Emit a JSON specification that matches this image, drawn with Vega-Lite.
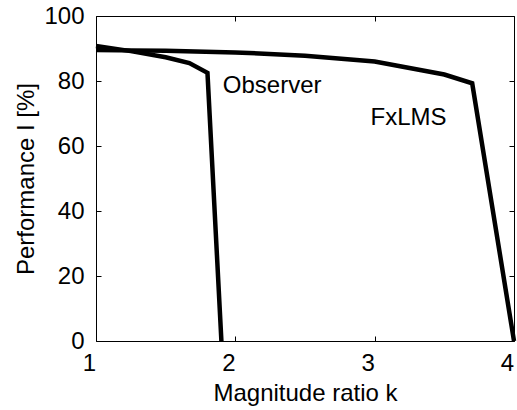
{
  "$schema": "https://vega.github.io/schema/vega-lite/v6.json",
  "autosize": {"type": "none"},
  "padding": {"left": 96, "top": 16, "right": 3, "bottom": 69},
  "width": 418,
  "height": 325,
  "background": "white",
  "config": {
    "font": "Liberation Sans",
    "view": {"stroke": null},
    "axis": {
      "domainColor": "black",
      "domainWidth": 1,
      "tickColor": "black",
      "tickWidth": 1,
      "tickSize": -5,
      "grid": false,
      "labelColor": "black",
      "labelFont": "Liberation Sans",
      "labelFontSize": 24,
      "titleFont": "Liberation Sans",
      "titleFontSize": 24,
      "titleFontWeight": "normal",
      "titleColor": "black"
    }
  },
  "datasets": {
    "lines": [
      {"method": "FxLMS", "k": 1.0, "perf": 89.5},
      {"method": "FxLMS", "k": 1.5, "perf": 89.3},
      {"method": "FxLMS", "k": 2.0, "perf": 88.8},
      {"method": "FxLMS", "k": 2.5, "perf": 87.8},
      {"method": "FxLMS", "k": 3.0, "perf": 86.0},
      {"method": "FxLMS", "k": 3.5, "perf": 82.0},
      {"method": "FxLMS", "k": 3.7, "perf": 79.3},
      {"method": "FxLMS", "k": 4.0, "perf": 0},
      {"method": "Observer", "k": 1.0, "perf": 90.8},
      {"method": "Observer", "k": 1.25, "perf": 89.2},
      {"method": "Observer", "k": 1.5, "perf": 87.3},
      {"method": "Observer", "k": 1.67, "perf": 85.5},
      {"method": "Observer", "k": 1.8, "perf": 82.5},
      {"method": "Observer", "k": 1.9, "perf": 0}
    ],
    "labels": [
      {"text": "Observer", "k": 1.91, "perf": 76.3},
      {"text": "FxLMS", "k": 2.97, "perf": 66.5}
    ]
  },
  "layer": [
    {
      "data": {"name": "lines"},
      "mark": {"type": "line", "color": "black", "strokeWidth": 4.5},
      "encoding": {
        "x": {
          "field": "k", "type": "quantitative",
          "scale": {"domain": [1, 4], "nice": false, "zero": false},
          "axis": {
            "orient": "bottom", "values": [1, 2, 3, 4], "format": "d",
            "labelPadding": 15, "labelOffset": -7, "labelFlush": false,
            "title": "Magnitude ratio k", "titleY": 59, "titleBaseline": "alphabetic"
          }
        },
        "y": {
          "field": "perf", "type": "quantitative",
          "scale": {"domain": [0, 100], "nice": false},
          "axis": {
            "orient": "left", "values": [0, 20, 40, 60, 80, 100],
            "labelPadding": 17,
            "title": "Performance I [%]", "titleX": -63, "titleY": 162.5,
            "titleBaseline": "alphabetic", "titleAngle": -90
          }
        },
        "detail": {"field": "method", "type": "nominal"}
      }
    },
    {
      "data": {"name": "labels"},
      "mark": {"type": "text", "align": "left", "baseline": "alphabetic", "fontSize": 24, "color": "black", "font": "Liberation Sans"},
      "encoding": {
        "x": {"field": "k", "type": "quantitative", "axis": null},
        "y": {"field": "perf", "type": "quantitative", "axis": null},
        "text": {"field": "text"}
      }
    },
    {
      "data": {"name": "lines"},
      "mark": {"type": "line", "strokeOpacity": 0},
      "encoding": {
        "x": {
          "field": "k", "type": "quantitative",
          "axis": {"orient": "top", "values": [1, 2, 3, 4], "labels": false, "title": null}
        },
        "y": {
          "field": "perf", "type": "quantitative",
          "axis": {"orient": "right", "values": [0, 20, 40, 60, 80, 100], "labels": false, "title": null}
        },
        "detail": {"field": "method", "type": "nominal"}
      }
    }
  ],
  "resolve": {"axis": {"x": "independent", "y": "independent"}}
}
